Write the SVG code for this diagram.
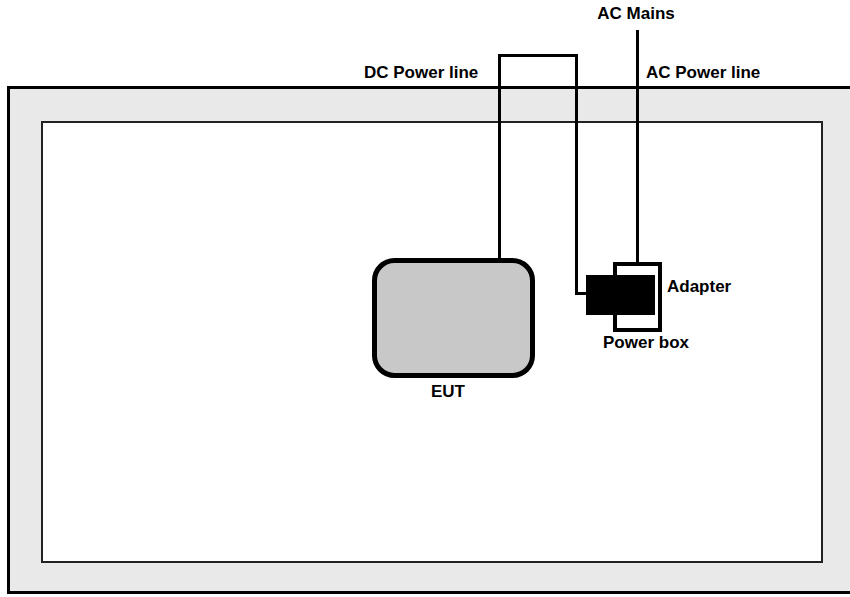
<svg xmlns="http://www.w3.org/2000/svg" width="850" height="597" viewBox="0 0 850 597">
<style>
.t{font-family:"Liberation Sans",Arial,sans-serif;font-weight:bold;font-size:17px;fill:#000}
.w{fill:none;stroke:#000;stroke-width:3}
</style>
<rect width="850" height="597" fill="#fff"/>
<g id="frame">
<rect x="8.5" y="87.5" width="846" height="505" fill="#e9e9e9" stroke="#000" stroke-width="3"/>
<rect x="42" y="122" width="780" height="440" fill="#fff" stroke="#222" stroke-width="2"/>
</g>
<g id="connectors">
<path class="w" d="M499.5,260 V55.5 H576.5 V293.5 H588"/>
<path class="w" d="M637.5,30 V263"/>
</g>
<g id="eut">
<rect x="374.5" y="260.5" width="158" height="115" rx="20" fill="#c8c8c8" stroke="#000" stroke-width="5"/>
<text class="t" x="448" y="397" text-anchor="middle">EUT</text>
</g>
<g id="powerbox">
<rect x="615" y="264" width="45" height="66" fill="#fff" stroke="#000" stroke-width="4"/>
<text class="t" x="646" y="348" text-anchor="middle">Power box</text>
</g>
<g id="adapter">
<rect x="586" y="275" width="69" height="40" fill="#000"/>
<text class="t" x="667" y="292">Adapter</text>
</g>
<g id="labels">
<text class="t" x="636" y="19" text-anchor="middle">AC Mains</text>
<text class="t" x="364" y="78">DC Power line</text>
<text class="t" x="646" y="78">AC Power line</text>
</g>
</svg>
